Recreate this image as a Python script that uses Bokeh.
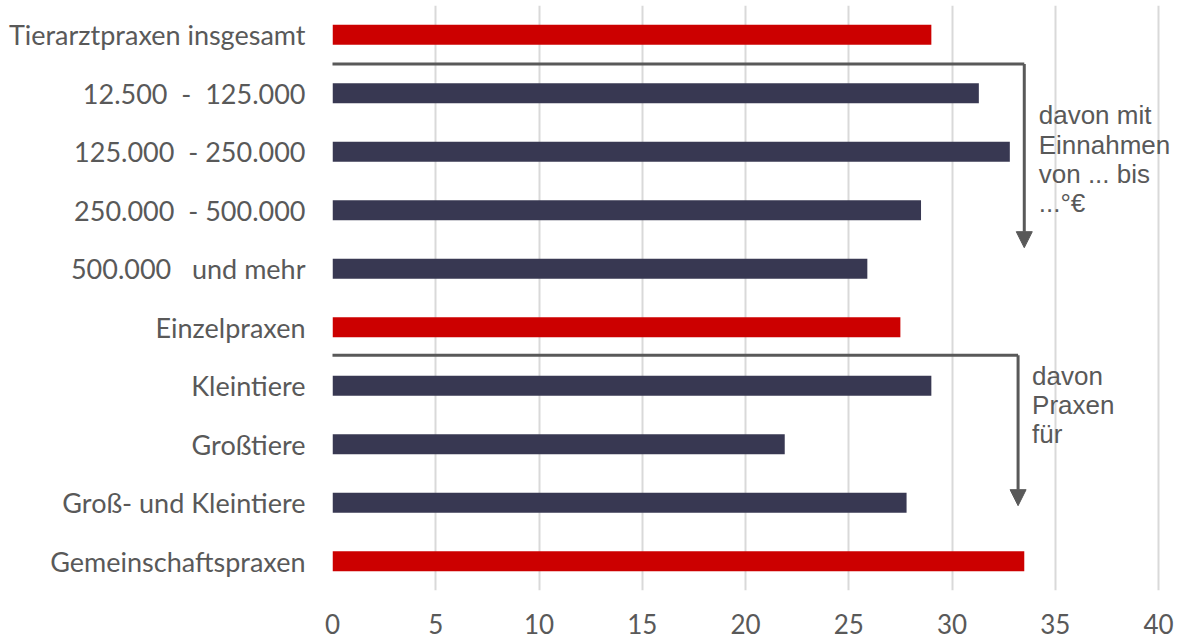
from bokeh.plotting import figure
from bokeh.models import ColumnDataSource, FixedTicker, Arrow, NormalHead
from bokeh.core.properties import value
from bokeh.embed import file_html
from bokeh.resources import INLINE

NB = "\u00a0"
categories = [
    "Tierarztpraxen insgesamt",
    "12.500" + NB * 2 + "-" + NB * 2 + "125.000",
    "125.000" + NB * 2 + "- 250.000",
    "250.000" + NB * 2 + "- 500.000",
    "500.000" + NB * 3 + "und mehr",
    "Einzelpraxen",
    "Kleintiere",
    "Großtiere",
    "Groß- und Kleintiere",
    "Gemeinschaftspraxen",
]
values = [29.0, 31.3, 32.8, 28.5, 25.9, 27.5, 29.0, 21.9, 27.8, 33.5]
is_total = [True, False, False, False, False, True, False, False, False, True]
x_ticks = [0, 5, 10, 15, 20, 25, 30, 35, 40]

RED = "#CC0000"
NAVY = "#383852"
GREY = "#595959"

n = len(categories)
ypos = [n - 1 - i for i in range(n)]
colors = [RED if t else NAVY for t in is_total]

src = ColumnDataSource(dict(y=ypos, right=values, color=colors, cat=categories))

p = figure(width=1179, height=638, output_backend="svg", toolbar_location=None,
           x_range=(0, 40.92), y_range=(-0.5, n - 0.5),
           min_border_left=332, min_border_right=2, min_border_top=5, min_border_bottom=48)
p.outline_line_color = None
p.background_fill_color = "white"
p.border_fill_color = "white"

p.hbar(y="y", left=0, right="right", height=0.34, fill_color="color", line_color=None, source=src)

# axes
p.xaxis.ticker = FixedTicker(ticks=x_ticks)
p.xaxis.axis_line_color = None
p.xaxis.major_tick_line_color = None
p.xaxis.minor_tick_line_color = None
p.xaxis.major_tick_out = 0
p.xaxis.major_tick_in = 0
p.xaxis.major_label_standoff = 23
p.xaxis.major_label_text_font = "Lato"
p.xaxis.major_label_text_font_size = "26px"
p.xaxis.major_label_text_color = GREY

p.yaxis.ticker = FixedTicker(ticks=ypos)
p.yaxis.major_label_overrides = {yv: c for yv, c in zip(ypos, categories)}
p.yaxis.axis_line_color = None
p.yaxis.major_tick_line_color = None
p.yaxis.minor_tick_line_color = None
p.yaxis.major_tick_out = 0
p.yaxis.major_tick_in = 0
p.yaxis.major_label_standoff = 27
p.yaxis.major_label_text_font = "Lato"
p.yaxis.major_label_text_font_size = "27px"
p.yaxis.major_label_text_color = GREY

p.xgrid.grid_line_color = "#D9D9D9"
p.xgrid.grid_line_width = 2
p.ygrid.grid_line_color = None

# bracket arrows
br1_x, br1_y, br1_tip = 33.5, 8.5, 5.36
br2_x, br2_y, br2_tip = 33.2, 3.52, 0.95
for bx, by, bt in [(br1_x, br1_y, br1_tip), (br2_x, br2_y, br2_tip)]:
    p.line([-0.12, bx], [by, by], line_color=GREY, line_width=3)
    p.add_layout(Arrow(x_start=bx, y_start=by, x_end=bx, y_end=bt,
                       line_color=GREY, line_width=3,
                       end=NormalHead(size=16, fill_color=GREY, line_color=GREY)))

p.text(x=[34.2], y=[7.88], text=["davon mit\nEinnahmen\nvon ... bis\n...°€"],
       text_font=value("Liberation Sans"), text_font_size="26px", text_color=GREY,
       text_baseline="top", text_align="left", text_line_height=0.98)
p.text(x=[33.88], y=[3.43], text=["davon\nPraxen\nfür"],
       text_font=value("Liberation Sans"), text_font_size="26px", text_color=GREY,
       text_baseline="top", text_align="left", text_line_height=0.98)

open("out.html", "w").write(file_html(p, INLINE))
